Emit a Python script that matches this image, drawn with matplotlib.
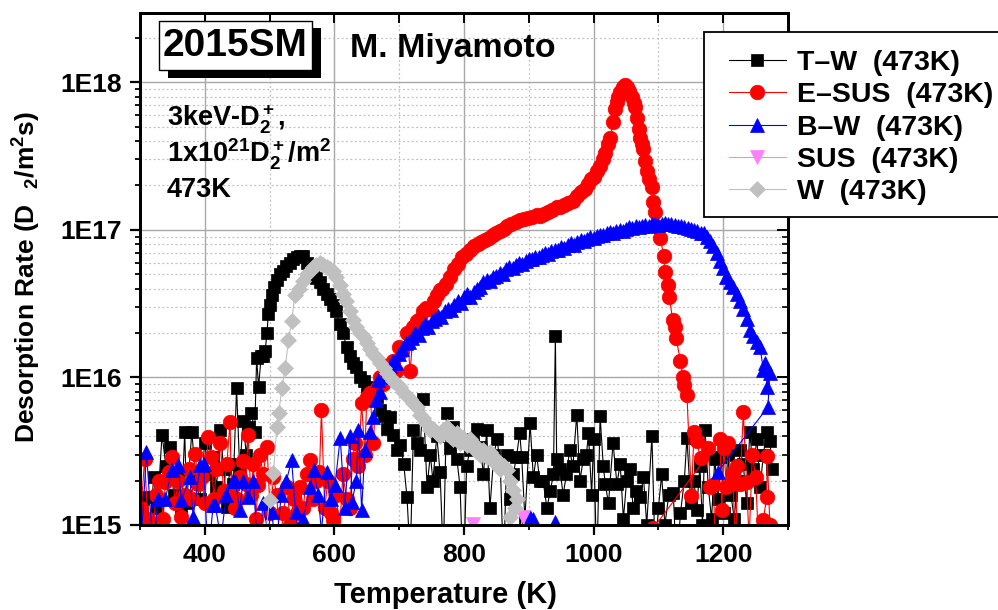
import matplotlib
matplotlib.use("Agg")
import numpy as np
import matplotlib.pyplot as plt
from matplotlib.patches import Rectangle
from matplotlib.ticker import LogLocator, NullFormatter, MultipleLocator

plt.rcParams['font.family'] = ['Liberation Sans', 'DejaVu Sans']
plt.rcParams['font.weight'] = 'bold'
plt.rcParams['mathtext.fontset'] = 'custom'
plt.rcParams['mathtext.rm'] = 'Liberation Sans:bold'
plt.rcParams['mathtext.it'] = 'Liberation Sans:bold'
plt.rcParams['mathtext.bf'] = 'Liberation Sans:bold'
plt.rcParams['mathtext.default'] = 'bf'

# ---------------- data: temperature (K) and D2 desorption rate ----------------
# T-W (473K)
T_tw = [302, 305, 310, 316, 321, 327, 334, 340, 346, 352, 358, 364, 369, 372, 380, 386, 392,
        400, 406, 413, 418, 424, 429, 434, 439, 444, 449, 454, 459, 464, 468, 472, 477, 480,
        483, 487, 490, 493, 496, 498, 501, 503, 507, 511, 516, 521, 526, 531, 536, 542, 547,
        552, 557, 562, 567, 572, 578, 583, 588, 593, 598, 603, 608, 613, 619, 624, 629, 634,
        640, 645, 650, 655, 660, 666, 671, 676, 681, 686, 691, 697, 702, 707, 712, 717, 722,
        727, 732, 737, 743, 748, 752, 758, 763, 768, 773, 778, 783, 789, 794, 799, 804, 809,
        814, 820, 825, 830, 835, 840, 846, 851, 856, 861, 866, 871, 876, 881, 886, 889, 894,
        902, 907, 912, 917, 922, 928, 933, 938, 941, 943, 948, 953, 958, 963, 968, 974, 979,
        984, 989, 992, 997, 1000, 1005, 1010, 1015, 1018, 1023, 1030, 1036, 1041, 1046, 1051,
        1056, 1061, 1066, 1072, 1077, 1082, 1090, 1095, 1100, 1105, 1110, 1116, 1123, 1128,
        1134, 1140, 1144, 1150, 1155, 1159, 1164, 1168, 1172, 1177, 1182, 1187, 1192, 1197,
        1202, 1207, 1212, 1217, 1222, 1226, 1231, 1236, 1241, 1246, 1252, 1257, 1262, 1267,
        1272, 1276]
R_tw = [8e14, 1.5e15, 1.55e15, 1.0e15, 2.1e15, 1.3e15, 4.1e15, 2.5e15, 3.4e15, 1.6e15, 2.2e15,
        1.2e15, 4.3e15, 1.4e15, 4.3e15, 2.0e15, 1.5e15, 3.6e15, 2.2e15, 2.9e15, 1.8e15, 4.4e15,
        2.4e15, 1.33e15, 2.6e15, 1.9e15, 8.5e15, 2.3e15, 5.1e15, 3.0e15, 4.6e15, 5.7e15, 4.3e15,
        1.35e16, 8.6e15, 1.4e16, 1.4e16, 1.5e16, 2.0e16, 2.7e16, 3.1e16, 3.6e16, 4.1e16, 4.6e16,
        5.0e16, 5.3e16, 5.7e16, 6.0e16, 6.3e16, 6.5e16, 6.7e16, 6.7e16, 6.0e16, 5.3e16, 5.0e16,
        4.7e16, 4.4e16, 4.0e16, 3.7e16, 3.4e16, 3.1e16, 2.8e16, 2.3e16, 2.0e16, 1.6e16, 1.4e16,
        1.25e16, 1.17e16, 1.0e16, 9.5e15, 8.6e15, 7.8e15, 7.0e15, 7.4e15, 6.0e15, 5.5e15, 4.5e15,
        5.4e15, 4.1e15, 3.2e15, 3.5e15, 2.6e15, 1.55e15, 6e14, 4.4e15, 3.6e15, 3.2e15, 7.1e15,
        1.8e15, 3.0e15, 2.0e15, 4.0e15, 2.3e15, 6e14, 5.7e15, 3.3e15, 4.6e15, 2.8e15, 1.8e15,
        4e14, 2.5e15, 3.2e15, 3.8e15, 4.5e15, 3.4e15, 2.2e15, 4.4e15, 1.3e15, 3.0e15, 3.8e15,
        2.6e15, 5e14, 3.0e15, 1.5e15, 2.2e15, 2.9e15, 4.2e15, 2.9e15, 1.1e15, 4.9e15, 2.1e15,
        3.0e15, 2.0e15, 2.0e15, 1.3e15, 1.7e15, 2.2e15, 1.9e16, 2.8e15, 2.4e15, 1.6e15, 2.2e15,
        3.2e15, 2.5e15, 5.6e15, 2.0e15, 2.8e15, 3.0e15, 4.2e15, 1.6e15, 3.8e15, 5e14, 5.5e15,
        2.5e15, 1.9e15, 1.4e15, 3.6e15, 1.9e15, 2.6e15, 1.1e15, 2.0e15, 2.4e15, 1.3e15, 1.7e15,
        1.55e15, 2.1e15, 1.0e15, 4.0e15, 6e14, 1.3e15, 2.2e15, 1.0e15, 1.6e15, 1.65e15, 5e14,
        1.2e15, 2.0e15, 3.9e15, 1.4e15, 2.0e15, 1.26e15, 2.5e15, 1.0e15, 4.4e15, 1.8e15, 1.1e15,
        2.8e15, 1.5e15, 2.9e15, 1.2e15, 3.0e15, 1.6e15, 1.1e15, 2.0e15, 3.2e15, 2.6e15, 1.4e15,
        4.3e15, 2.4e15, 3.8e15, 1.8e15, 3.0e15, 4.3e15, 3.7e15, 2.4e15]

# E-SUS (473K)
T_esus = [302, 307, 312, 318, 324, 330, 336, 339, 344, 349, 354, 359, 364, 370, 375, 380, 385,
          390, 395, 400, 405, 410, 414, 418, 424, 429, 434, 439, 441, 446, 450, 455, 459, 463,
          467, 471, 475, 479, 482, 485, 490, 496, 501, 506, 511, 516, 521, 527, 532, 537, 542,
          547, 552, 557, 562, 567, 572, 577, 580, 585, 590, 594, 598, 603, 608, 613, 619, 624,
          628, 632, 637, 642, 647, 650, 655, 660, 665, 670, 675, 680, 685, 690, 695, 700, 705,
          712, 717, 722, 727, 732, 737, 742, 748, 753, 758, 763, 766, 772, 779, 785, 791, 797,
          803, 809, 815, 821, 827, 832, 838, 844, 850, 855, 861, 867, 873, 880, 886, 892, 898,
          905, 912, 917, 923, 930, 936, 943, 948, 955, 961, 968, 975, 981, 986, 991, 996, 1000,
          1005, 1010, 1014, 1018, 1022, 1026, 1030, 1033, 1036, 1038, 1041, 1045, 1048, 1052,
          1055, 1059, 1062, 1064, 1067, 1070, 1072, 1075, 1077, 1080, 1083, 1085, 1090, 1092,
          1095, 1100, 1103, 1108, 1110, 1115, 1117, 1122, 1126, 1127, 1134, 1138, 1139, 1144,
          1151, 1155, 1159, 1165, 1177, 1180, 1185, 1188, 1092, 1195, 1198, 1201, 1205, 1208,
          1212, 1215, 1219, 1222, 1226, 1231, 1236, 1240, 1245, 1250, 1255, 1262, 1267, 1268,
          1272]
R_esus = [1.3e15, 2.8e15, 1.1e15, 5e14, 1.6e15, 2.0e15, 1.1e15, 1.96e15, 2.3e15, 2.9e15, 1.4e15,
          2.0e15, 1.13e15, 1.6e15, 2.4e15, 1.5e15, 3.05e15, 1.9e15, 2.1e15, 1.4e15, 3.95e15,
          2.9e15, 1.5e15, 2.4e15, 3.6e15, 1.7e15, 2.6e15, 5.0e15, 1.65e15, 1.3e15, 1.5e15, 2.1e15,
          2.7e15, 1.9e15, 4.1e15, 1.6e15, 2.6e15, 1.1e15, 1.87e15, 3.0e15, 2.2e15, 3.4e15, 1.2e15,
          2.1e15, 1.6e15, 7e14, 1.2e15, 1.8e15, 1.0e15, 1.5e15, 1.2e15, 1.8e15, 1.3e15, 2.2e15,
          2.75e15, 1.5e15, 2.0e15, 2.3e15, 6.0e15, 1.3e15, 2.0e15, 1.2e15, 1.08e15, 1.6e15, 9e14,
          2.2e15, 1.5e15, 1.3e15, 2.8e15, 3.6e15, 2.5e15, 6.7e15, 3.0e15, 7.4e15, 7.8e15, 3.6e15,
          8.5e15, 1.0e16, 9.0e15, 1.2e16, 1.1e16, 1.3e16, 1.1e16, 1.6e16, 1.5e16, 2.0e16, 1.1e16,
          2.2e16, 2.4e16, 2.5e16, 2.8e16, 2.95e16, 2.9e16, 3.3e16, 3.6e16, 3.9e16, 4.0e16, 4.3e16,
          4.8e16, 5.4e16, 5.9e16, 6.5e16, 6.9e16, 7.3e16, 7.8e16, 8.0e16, 8.3e16, 8.5e16, 8.8e16,
          9.3e16, 9.5e16, 9.8e16, 1.02e17, 1.06e17, 1.1e17, 1.13e17, 1.16e17, 1.18e17, 1.2e17,
          1.22e17, 1.26e17, 1.25e17, 1.28e17, 1.32e17, 1.36e17, 1.43e17, 1.43e17, 1.48e17,
          1.53e17, 1.58e17, 1.7e17, 1.8e17, 1.9e17, 2.05e17, 2.2e17, 2.3e17, 2.5e17, 2.7e17,
          3.0e17, 3.3e17, 3.8e17, 4.2e17, 5.4e17, 6.6e17, 7.3e17, 7.9e17, 8.6e17, 9.3e17, 9.6e17,
          9.3e17, 8.7e17, 7.9e17, 7.2e17, 6.8e17, 5.7e17, 4.8e17, 4.2e17, 3.8e17, 3.55e17,
          2.95e17, 2.5e17, 2.2e17, 1.95e17, 1.55e17, 1.33e17, 1.05e17, 8.8e16, 6.7e16, 5.2e16,
          4.2e16, 3.5e16, 2.45e16, 2.2e16, 1.86e16, 1.3e16, 1.0e16, 8.9e15, 7.6e15, 1.57e15,
          4.3e15, 3.7e15, 2.85e15, 3.3e15, 1.8e15, 1.87e15, 6e14, 9.5e14, 3.8e15, 1.26e15,
          3.3e15, 1.8e15, 3.6e15, 1.9e15, 2.25e15, 6e14, 2.5e15, 1.9e15, 5.8e15, 1.96e15, 8e14,
          3.0e15, 2.1e15, 7e14, 1.08e15, 1.55e15, 2.95e15, 1.0e15]

# B-W (473K)
T_bw = [895, 902, 907, 918, 941, 950, 302, 310, 320, 328, 339, 349, 359, 364, 377, 382, 393,
        398, 405, 413, 416, 425, 433, 444, 447, 454, 459, 467, 475, 482, 490, 497, 503, 510,
        518, 526, 534, 540, 546, 552, 562, 568, 575, 580, 588, 594, 601, 609, 616, 624, 627,
        634, 637, 642, 647, 655, 660, 664, 668, 671, 676, 681, 686, 690, 695, 700, 705, 710,
        715, 720, 725, 730, 735, 740, 745, 750, 755, 760, 765, 770, 775, 780, 785, 790, 795,
        800, 805, 810, 815, 820, 825, 830, 835, 840, 845, 850, 855, 860, 865, 870, 875, 880,
        885, 890, 895, 900, 905, 910, 915, 920, 925, 930, 935, 940, 945, 950, 955, 960, 965,
        970, 975, 980, 985, 990, 995, 1000, 1005, 1010, 1015, 1020, 1025, 1030, 1035, 1040,
        1045, 1050, 1055, 1060, 1065, 1070, 1075, 1080, 1085, 1090, 1095, 1100, 1105, 1110,
        1115, 1120, 1125, 1130, 1135, 1140, 1145, 1150, 1155, 1160, 1165, 1170, 1175, 1180,
        1185, 1190, 1195, 1200, 1205, 1210, 1215, 1221, 1226, 1231, 1236, 1241, 1246, 1252,
        1257, 1262, 1265, 1268, 1272, 1269, 1192]
R_bw = [8e14, 1.13e15, 1.1e15, 9e14, 1.05e15, 5e14, 8e14, 3.1e15, 7e14, 1.5e15, 1.5e15, 2.35e15,
        2.55e15, 1.48e15, 2.1e15, 1.14e15, 2.55e15, 2.6e15, 6e14, 1.37e15, 1.37e15, 8e14, 1.6e15,
        2.0e15, 2.0e15, 1.26e15, 2.0e15, 1.55e15, 2.0e15, 6e14, 1.4e15, 9e14, 1.23e15, 7e14,
        1.6e15, 2.0e15, 2.75e15, 1.23e15, 8e14, 1.1e15, 1.8e15, 2.35e15, 1.6e15, 9e14, 2.3e15,
        1.5e15, 1.87e15, 3.9e15, 1.3e15, 4.0e15, 1.44e15, 2.0e15, 4.4e15, 1.26e15, 3.2e15,
        4.3e15, 5.4e15, 7.0e15, 9.6e15, 8.0e15, 1.0e16, 1.1e16, 1.2e16, 1.3e16, 1.25e16,
        1.45e16, 1.55e16, 1.7e16, 1.75e16, 1.85e16, 2.0e16, 1.95e16, 2.15e16, 2.3e16, 2.2e16,
        2.4e16, 2.5e16, 2.6e16, 2.55e16, 2.8e16, 2.9e16, 2.85e16, 3.1e16, 3.3e16, 3.2e16,
        3.5e16, 3.7e16, 3.5e16, 3.8e16, 4.0e16, 4.1e16, 4.4e16, 4.6e16, 4.5e16, 4.8e16, 4.9e16,
        5.1e16, 5.0e16, 5.4e16, 5.6e16, 5.5e16, 5.8e16, 6.0e16, 5.9e16, 6.2e16, 6.3e16, 6.3e16,
        6.6e16, 6.6e16, 6.8e16, 7.0e16, 6.9e16, 7.2e16, 7.3e16, 7.3e16, 7.6e16, 7.5e16, 7.9e16,
        8.1e16, 7.9e16, 8.3e16, 8.5e16, 8.4e16, 8.7e16, 8.9e16, 8.8e16, 9.1e16, 9.3e16, 9.2e16,
        9.6e16, 9.7e16, 9.5e16, 9.9e16, 1.0e17, 9.9e16, 1.02e17, 1.04e17, 1.03e17, 1.06e17,
        1.05e17, 1.07e17, 1.08e17, 1.06e17, 1.09e17, 1.1e17, 1.08e17, 1.1e17, 1.11e17, 1.09e17,
        1.1e17, 1.08e17, 1.07e17, 1.06e17, 1.04e17, 1.03e17, 1.02e17, 1.0e17, 9.8e16, 9.6e16,
        9.5e16, 9.0e16, 8.4e16, 7.8e16, 7.0e16, 6.2e16, 5.5e16, 4.8e16, 4.4e16, 4.1e16, 3.7e16,
        3.3e16, 2.9e16, 2.5e16, 2.1e16, 1.9e16, 1.75e16, 1.6e16, 1.12e16, 1.25e16, 8.6e15,
        1.07e16, 6.3e15, 2.3e15]

# SUS (473K)
T_sus = [800, 814, 825, 880, 891, 900]
R_sus = [5e14, 1.02e15, 6e14, 7e14, 1.13e15, 6e14]

# W (473K)
T_w = [490, 500, 506, 511, 514, 519, 524, 529, 534, 539, 545, 552, 558, 563, 567, 572, 578, 583,
       588, 593, 598, 603, 608, 613, 618, 624, 629, 634, 640, 645, 650, 655, 660, 665, 670, 676,
       681, 686, 691, 696, 701, 706, 712, 717, 722, 727, 732, 737, 742, 748, 752, 758, 763, 768,
       773, 778, 783, 789, 794, 799, 804, 809, 814, 820, 825, 830, 835, 840, 845, 851, 856, 861,
       866, 871, 876, 882, 878, 871, 865]
R_w = [6e14, 1.48e15, 2.24e15, 4.6e15, 5.7e15, 8.5e15, 1.15e16, 1.8e16, 2.4e16, 3.6e16, 4.0e16,
       4.5e16, 5.0e16, 5.3e16, 5.6e16, 5.8e16, 6.0e16, 5.8e16, 5.6e16, 5.4e16, 5.3e16, 4.8e16,
       4.2e16, 3.7e16, 3.3e16, 2.8e16, 2.45e16, 2.2e16, 2.0e16, 1.87e16, 1.7e16, 1.55e16, 1.45e16,
       1.35e16, 1.25e16, 1.15e16, 1.07e16, 1.0e16, 9.4e15, 9.0e15, 8.6e15, 8.0e15, 7.5e15, 7.1e15,
       6.7e15, 6.3e15, 5.6e15, 5.3e15, 4.9e15, 4.4e15, 4.5e15, 4.2e15, 4.0e15, 4.4e15, 4.6e15,
       4.0e15, 3.8e15, 4.2e15, 3.6e15, 3.9e15, 3.5e15, 3.8e15, 3.3e15, 3.4e15, 3.0e15, 3.2e15,
       2.9e15, 3.1e15, 2.7e15, 2.75e15, 2.4e15, 2.5e15, 2.35e15, 2.0e15, 1.72e15, 1.5e15, 1.3e15,
       1.13e15, 9e14]

x_ticks = [400, 600, 800, 1000, 1200]
y_ticks = [1e15, 1e16, 1e17, 1e18]
y_tick_labels = ["1E15", "1E16", "1E17", "1E18"]

series = [
    ("T\u2013W  (473K)", T_tw, R_tw, 's', 9.0, '#000000', '#000000'),
    ("E\u2013SUS  (473K)", T_esus, R_esus, 'o', 10.5, '#ff0000', '#ff0000'),
    ("B\u2013W  (473K)", T_bw, R_bw, '^', 10.5, '#0000ff', '#0000ff'),
    ("SUS  (473K)", T_sus, R_sus, 'v', 10.5, '#ff80ff', '#ff80ff'),
    ("W  (473K)", T_w, R_w, 'D', 7.8, '#c0c0c0', '#c0c0c0'),
]

W, H = 998, 610


def fx(px):
    return px / W


def fy(py):
    return 1 - py / H


fig = plt.figure(figsize=(W / 100, H / 100), dpi=100)
ax = fig.add_axes([fx(140), fy(525), (788 - 140) / W, (525 - 13) / H])
ax.set_yscale('log')
ax.set_xlim(300, 1300)
ax.set_ylim(1e15, 2.95e18)
ax.set_axisbelow(True)

handles = []
for label, T, R, mk, ms, lc, mc in series:
    h, = ax.plot(T, R, color=lc, lw=0.8, marker=mk, ms=ms, mfc=mc, mec=mc, mew=0.5,
                 label=label)
    handles.append(h)

ax.set_xticks(x_ticks)
ax.xaxis.set_minor_locator(MultipleLocator(100))
ax.set_yticks(y_ticks)
ax.set_yticklabels(y_tick_labels)
ax.yaxis.set_minor_locator(LogLocator(base=10, subs=np.arange(2, 10)))
ax.yaxis.set_minor_formatter(NullFormatter())

ax.grid(which='major', color='#a8a8a8', lw=1.0, ls='-')
ax.grid(which='minor', color='#c0c0c0', lw=0.9, ls=(0, (1.5, 2.0)))

ax.tick_params(which='major', direction='out', length=7, width=1.6, labelsize=19, pad=6,
               top=False, right=False)
ax.tick_params(which='minor', direction='out', length=3.6, width=1.3, top=False, right=False)
for sp in ax.spines.values():
    sp.set_linewidth(2.0)

# inward ticks on the top and right edges
ax_top = ax.twiny()
ax_top.set_xlim(ax.get_xlim())
ax_top.set_xticks(np.arange(400, 1300, 100))
ax_top.tick_params(direction='in', length=7, width=1.4, labeltop=False)
ax_right = ax.twinx()
ax_right.set_yscale('log')
ax_right.set_ylim(ax.get_ylim())
ax_right.set_yticks(y_ticks)
ax_right.yaxis.set_minor_locator(LogLocator(base=10, subs=np.arange(2, 10)))
ax_right.yaxis.set_minor_formatter(NullFormatter())
ax_right.tick_params(which='major', direction='in', length=8, width=1.4, labelright=False)
ax_right.tick_params(which='minor', direction='in', length=4, width=1.2, labelright=False)
for a in (ax_top, ax_right):
    for sp in a.spines.values():
        sp.set_linewidth(2.0)

# axis titles
fig.text(fx(446), fy(603), "Temperature (K)", ha='center', va='baseline', fontsize=21,
         fontweight='bold')
fig.text(fx(27), fy(277), r"Desorption Rate (D$\ \ _2$/m$^2$s)", ha='center', va='center',
         rotation=90, fontsize=19, fontweight='bold')

# labelled box with drop shadow
fig.add_artist(Rectangle((fx(168), fy(78)), (321 - 168) / W, (78 - 28) / H,
                         transform=fig.transFigure, facecolor='black', edgecolor='black',
                         lw=0, zorder=5))
fig.add_artist(Rectangle((fx(159), fy(70)), (312 - 159) / W, (70 - 21) / H,
                         transform=fig.transFigure, facecolor='white', edgecolor='black',
                         lw=1.0, zorder=6))
fig.text(fx(235.5), fy(46), "2015SM", ha='center', va='center', fontsize=28,
         fontweight='bold', zorder=7)
fig.text(fx(350), fy(57), "M. Miyamoto", ha='left', va='baseline', fontsize=24.5,
         fontweight='bold', zorder=7)

fig.text(fx(167), fy(127), r"3keV-D$_2^+$,", ha='left', va='baseline', fontsize=19.5)
fig.text(fx(167), fy(162), r"1x10$^{21}$D$_2^+$/m$^2$", ha='left', va='baseline', fontsize=19.5)
fig.text(fx(167), fy(197), "473K", ha='left', va='baseline', fontsize=19.5)

# legend with a square frame running off the right edge
fig.add_artist(Rectangle((fx(704), fy(217)), (1010 - 704) / W, (217 - 32) / H,
                         transform=fig.transFigure, facecolor='white', edgecolor='black',
                         lw=1.3, zorder=8))
leg = fig.legend(handles=handles, loc='upper left', bbox_to_anchor=(fx(729), fy(50)),
                 bbox_transform=fig.transFigure, frameon=False, borderaxespad=0,
                 borderpad=0, handlelength=2.0, handletextpad=0.4, labelspacing=0.22,
                 prop={'family': ['Liberation Sans', 'DejaVu Sans'], 'weight': 'bold',
                       'size': 20.5})
leg.set_zorder(9)

fig.savefig("out.png", dpi=100)
